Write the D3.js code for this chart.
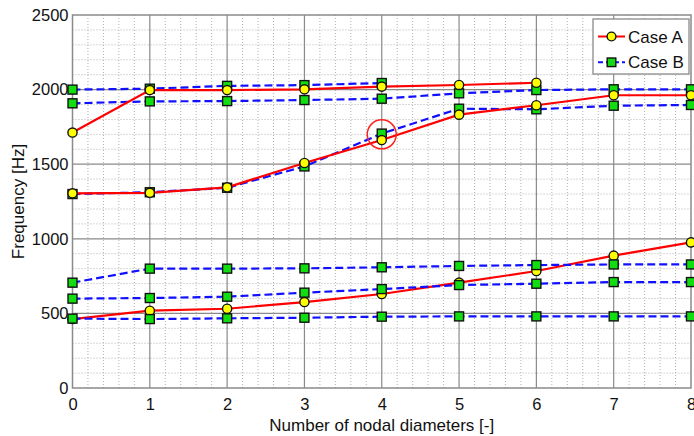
<!DOCTYPE html>
<html>
<head>
<meta charset="utf-8">
<script src="https://cdn.jsdelivr.net/npm/d3@7"></script>
<style>
  html, body { margin: 0; padding: 0; background: #fff; }
  svg { display: block; font-family: "Liberation Sans", Arial, Helvetica, sans-serif; }
</style>
</head>
<body>
<svg id="chart" width="694" height="436"></svg>
<script>
// ---- Data ----
const nodalDiameters = [0, 1, 2, 3, 4, 5, 6, 7, 8];
const xTicks = [0, 1, 2, 3, 4, 5, 6, 7, 8];
const yTicks = [0, 500, 1000, 1500, 2000, 2500];
const seriesNames = ["Case A", "Case B"];

// Case A (red, solid, yellow circles)
const caseA_low  = [462, 518, 531, 576, 630, 706, 784, 887, 976];
const caseA_mid  = [1305, 1308, 1345, 1508, 1662, 1832, 1895, 1962, 1962];
const caseA_high = [1712, 1997, 1997, 2002, 2020, 2031, 2046];

// Case B (blue, dashed, green squares)
const caseB_1 = [465, 462, 467, 471, 478, 480, 480, 480, 480];
const caseB_2 = [599, 603, 612, 639, 663, 690, 699, 710, 710];
const caseB_3 = [706, 800, 800, 802, 809, 818, 824, 828, 828];
const caseB_4 = [1300, 1312, 1342, 1485, 1705, 1872, 1868, 1892, 1897];
const caseB_5 = [1908, 1921, 1923, 1930, 1939, 1975, 1997, 2002, 2002];
const caseB_6 = [2000, 2006, 2025, 2030, 2044];

// highlighted point (red circle annotation)
const highlight = [4, 1700];

(function () {
// ---- Layout ----
const svg = d3.select("#chart");
const W = 694, H = 436;
const pL = 72.5, pR = 691, pT = 15, pB = 388;

const x = d3.scaleLinear().domain([0, 8]).range([pL, pR]);
const y = d3.scaleLinear().domain([0, 2500]).range([pB, pT]);

const fontSize = 16.5;

svg.append("rect").attr("width", W).attr("height", H).attr("fill", "#fff");

// minor grid (dotted)
const minorX = d3.range(0, 8.0001, 0.2).filter(v => Math.abs(v - Math.round(v)) > 1e-6);
const minorY = d3.range(0, 2500.001, 100).filter(v => v % 500 !== 0);
const grid = svg.append("g");
grid.selectAll("line.mx").data(minorX).join("line")
  .attr("x1", d => x(d)).attr("x2", d => x(d))
  .attr("y1", pT).attr("y2", pB)
  .attr("stroke", "#b0b0b0").attr("stroke-width", 1)
  .attr("stroke-dasharray", "1,2");
grid.selectAll("line.my").data(minorY).join("line")
  .attr("x1", pL).attr("x2", pR)
  .attr("y1", d => y(d)).attr("y2", d => y(d))
  .attr("stroke", "#b0b0b0").attr("stroke-width", 1)
  .attr("stroke-dasharray", "1,2");

// major grid (solid gray)
grid.selectAll("line.MX").data(xTicks.slice(1, -1)).join("line")
  .attr("x1", d => x(d)).attr("x2", d => x(d))
  .attr("y1", pT).attr("y2", pB)
  .attr("stroke", "#8a8a8a").attr("stroke-width", 1.2);
grid.selectAll("line.MY").data(yTicks.slice(1, -1)).join("line")
  .attr("x1", pL).attr("x2", pR)
  .attr("y1", d => y(d)).attr("y2", d => y(d))
  .attr("stroke", "#8a8a8a").attr("stroke-width", 1.2);

// axes via d3
const xAxis = d3.axisBottom(x).tickValues(xTicks).tickFormat(d3.format("d")).tickSize(0).tickPadding(10);
const yAxis = d3.axisLeft(y).tickValues(yTicks).tickFormat(d3.format("d")).tickSize(0).tickPadding(4);

const gx = svg.append("g").attr("transform", `translate(0,${pB})`).call(xAxis);
const gy = svg.append("g").attr("transform", `translate(${pL},0)`).call(yAxis);
[gx, gy].forEach(g => {
  g.select(".domain").remove();
  g.selectAll("text").attr("font-size", fontSize).attr("fill", "#111")
    .attr("font-family", "Liberation Sans, Arial, sans-serif");
});

// frame
svg.append("rect")
  .attr("x", pL).attr("y", pT)
  .attr("width", pR - pL).attr("height", pB - pT)
  .attr("fill", "none").attr("stroke", "#8a8a8a").attr("stroke-width", 1.5);

// axis labels
svg.append("text")
  .attr("x", (pL + pR) / 2).attr("y", 431)
  .attr("text-anchor", "middle").attr("font-size", 17).attr("fill", "#111")
  .text("Number of nodal diameters [-]");
svg.append("text")
  .attr("transform", `translate(24,${(pT + pB) / 2}) rotate(-90)`)
  .attr("text-anchor", "middle").attr("font-size", 17).attr("fill", "#111")
  .text("Frequency [Hz]");

// ---- Series ----
const styleA = { color: "#ff0000", dash: null, marker: "circle", fill: "#ffff00" };
const styleB = { color: "#1010ff", dash: "8,4", marker: "square", fill: "#11dd11" };

const line = d3.line().x(d => x(d[0])).y(d => y(d[1]));

function drawSeries(values, st) {
  const pts = values.map((v, i) => [nodalDiameters[i], v]);
  const g = svg.append("g");
  g.append("path").datum(pts)
    .attr("d", line).attr("fill", "none")
    .attr("stroke", st.color).attr("stroke-width", 2.2)
    .attr("stroke-dasharray", st.dash);
  if (st.marker === "circle") {
    g.selectAll("circle").data(pts).join("circle")
      .attr("cx", d => x(d[0])).attr("cy", d => y(d[1])).attr("r", 4.6)
      .attr("fill", st.fill).attr("stroke", "#111").attr("stroke-width", 1.4);
  } else {
    const s = 9;
    g.selectAll("rect").data(pts).join("rect")
      .attr("x", d => x(d[0]) - s / 2).attr("y", d => y(d[1]) - s / 2)
      .attr("width", s).attr("height", s)
      .attr("fill", st.fill).attr("stroke", "#111").attr("stroke-width", 1.4);
  }
}

drawSeries(caseA_low, styleA);
drawSeries(caseB_1, styleB);
drawSeries(caseB_2, styleB);
drawSeries(caseB_3, styleB);
drawSeries(caseB_4, styleB);
drawSeries(caseB_5, styleB);
drawSeries(caseB_6, styleB);
drawSeries(caseA_mid, styleA);
drawSeries(caseA_high, styleA);

// annotation circle
svg.append("circle")
  .attr("cx", x(highlight[0])).attr("cy", y(highlight[1])).attr("r", 14.5)
  .attr("fill", "none").attr("stroke", "#ff2020").attr("stroke-width", 1.5);

// ---- Legend ----
const lg = svg.append("g");
lg.append("rect").attr("x", 593).attr("y", 19).attr("width", 96).attr("height", 55)
  .attr("fill", "#fff").attr("stroke", "#8a8a8a").attr("stroke-width", 1.3);
const legendStyles = [styleA, styleB];
seriesNames.forEach((name, i) => {
  const st = legendStyles[i];
  const cy = 36.5 + i * 25.8;
  lg.append("line").attr("x1", 598).attr("x2", 625).attr("y1", cy).attr("y2", cy)
    .attr("stroke", st.color).attr("stroke-width", 2).attr("stroke-dasharray", st.dash ? "5,3" : null);
  if (st.marker === "circle") {
    lg.append("circle").attr("cx", 611.5).attr("cy", cy).attr("r", 4.4)
      .attr("fill", st.fill).attr("stroke", "#111").attr("stroke-width", 1.4);
  } else {
    lg.append("rect").attr("x", 611.5 - 4.3).attr("y", cy - 4.3).attr("width", 8.6).attr("height", 8.6)
      .attr("fill", st.fill).attr("stroke", "#111").attr("stroke-width", 1.4);
  }
  lg.append("text").attr("x", 628).attr("y", cy).attr("dy", "0.36em")
    .attr("font-size", 17).attr("fill", "#111").text(name);
});
})();
</script>
</body>
</html>
